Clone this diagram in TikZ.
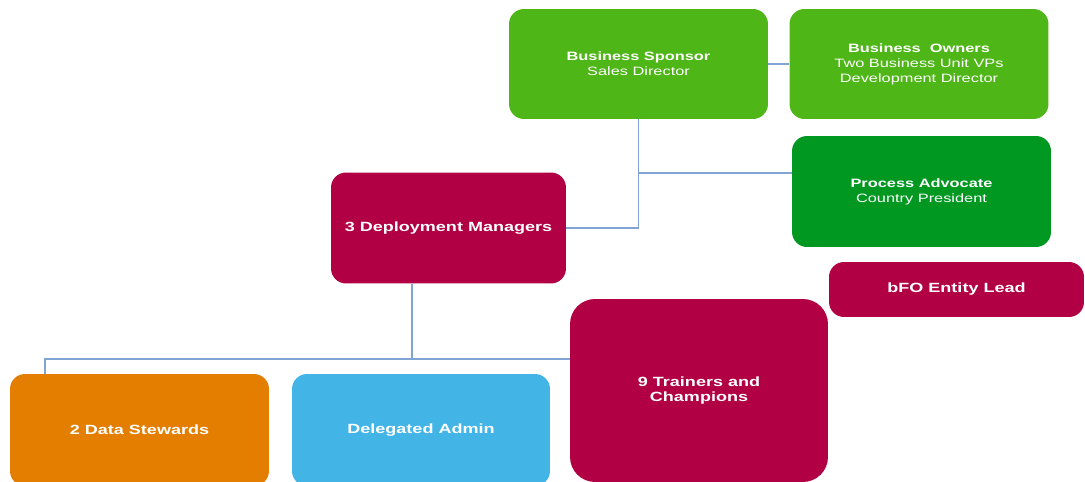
\documentclass[tikz,border=0pt]{standalone}
\usepackage{fontspec}
\setmainfont{Liberation Sans}[FakeStretch=1.35]
\usetikzlibrary{positioning}

\definecolor{leafgreen}{RGB}{78,182,22}
\definecolor{darkgreen}{RGB}{0,152,32}
\definecolor{crimson}{RGB}{177,0,67}
\definecolor{deeporange}{RGB}{228,126,0}
\definecolor{skyblue}{RGB}{66,180,230}
\definecolor{linkblue}{RGB}{128,164,212}

\tikzset{
  orgbox/.style={rounded corners=0.3cm, text=white, align=center, inner sep=0pt,
    font=\fontsize{7.6}{9}\selectfont\bfseries},
  twoline/.style={font=\fontsize{6.9}{8.6}\selectfont},
  link/.style={linkblue, line width=0.6pt}
}

\begin{document}
\begin{tikzpicture}[x=0.02cm, y=-0.02cm]
    \useasboundingbox (0,0) rectangle (1085,482);
    \clip (0,0) rectangle (1085,482);

    % Top row
    \node[orgbox, twoline, fill=leafgreen, minimum width=5.18cm, minimum height=2.2cm] (sponsor) at (638.5,64)
        {\textbf{Business Sponsor}\\Sales Director};
    \node[orgbox, twoline, fill=leafgreen, minimum width=5.18cm, minimum height=2.2cm] (owners) at (919,64)
        {\textbf{Business~~Owners}\\Two Business Unit VPs\\Development Director};
    \node[orgbox, twoline, fill=darkgreen, minimum width=5.18cm, minimum height=2.22cm] (advocate) at (921.5,191.5)
        {\textbf{Process Advocate}\\Country President};

    % Middle
    \node[orgbox, fill=crimson, minimum width=4.7cm, minimum height=2.22cm] (deploy) at (448.5,228)
        {3 Deployment Managers};
    \node[orgbox, fill=crimson, minimum width=5.1cm, minimum height=1.1cm] (entity) at (956.5,289.5)
        {bFO Entity Lead};

    % Bottom row
    \node[orgbox, fill=crimson, rounded corners=0.5cm, minimum width=5.16cm, minimum height=3.66cm] (trainers) at (699,390.5)
        {9 Trainers and\\Champions};
    \node[orgbox, fill=deeporange, minimum width=5.18cm, minimum height=2.24cm] (stewards) at (139.5,430)
        {2 Data Stewards};
    \node[orgbox, fill=skyblue, minimum width=5.16cm, minimum height=2.24cm] (admin) at (421,430)
        {Delegated Admin};

    % Connectors
    \coordinate (pa) at (639,173);
    \coordinate (split) at (412,359);
    \coordinate (sw) at (45,359);
    \draw[link] (sponsor.east) -- (owners.west);
    \draw[link] (sponsor.south) |- (deploy.east);
    \draw[link] (pa) -- (pa -| advocate.west);
    \draw[link] (split |- deploy.south) -- (split);
    \draw[link] (sw |- stewards.north) -- (sw) -- (sw -| trainers.west);
\end{tikzpicture}
\end{document}
